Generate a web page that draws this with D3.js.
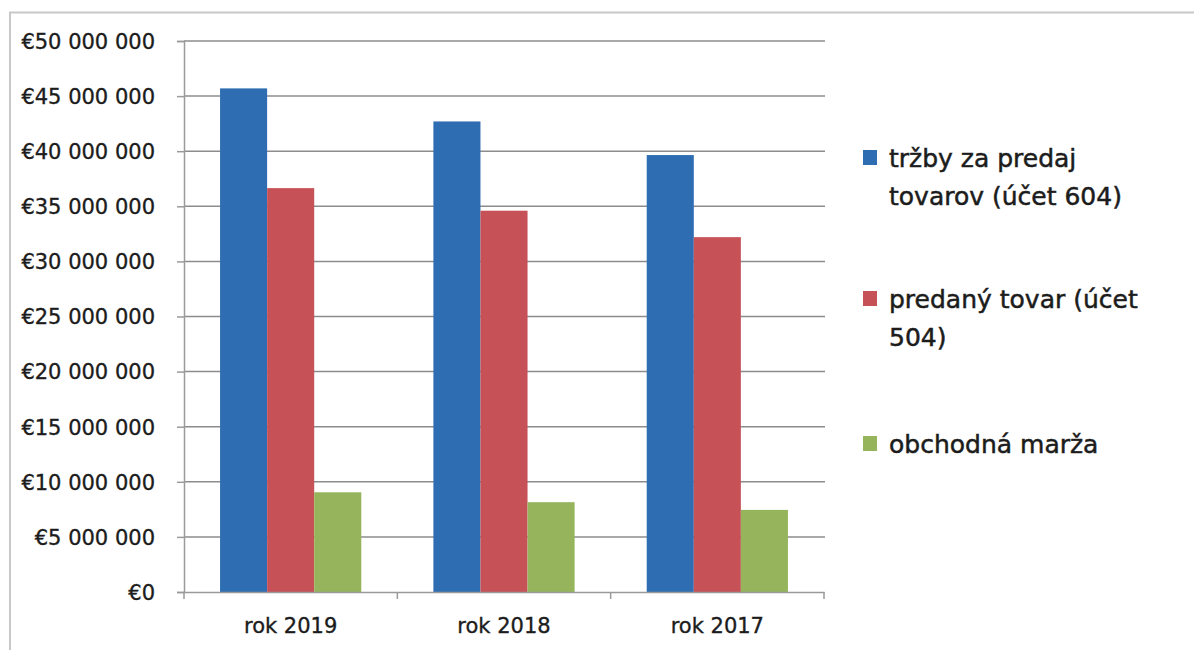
<!DOCTYPE html>
<html><head><meta charset="utf-8">
<script src="https://cdn.jsdelivr.net/npm/d3@7"></script>
<style>
html,body{margin:0;padding:0;background:#fff;}
svg{display:block;}
text{font-family:"DejaVu Sans",sans-serif;fill:#1c1c1c;stroke:#1c1c1c;stroke-width:0.35px;}
</style></head>
<body>
<svg id="chart" width="1194" height="650"></svg>
<script>
const categories = ["rok 2019", "rok 2018", "rok 2017"];
const seriesNames = ["tržby za predaj tovarov (účet 604)", "predaný tovar (účet 504)", "obchodná marža"];
const trzby = [45700000, 42700000, 39650000];
const predanyTovar = [36650000, 34600000, 32200000];
const marza = [9050000, 8150000, 7450000];
const yTicks = [0, 5000000, 10000000, 15000000, 20000000, 25000000, 30000000, 35000000, 40000000, 45000000, 50000000];
const legendLines = [["tržby za predaj", "tovarov (účet 604)"], ["predaný tovar (účet", "504)"], ["obchodná marža"]];
const colors = ["#2f6db2", "#c65257", "#95b45c"];

(function () {
const series = [trzby, predanyTovar, marza];
const svg = d3.select("#chart");

// outer frame
svg.append("path").attr("d", "M10,650 L10,12.5 L1194,12.5")
  .attr("fill", "none").attr("stroke", "#c8c8c8").attr("stroke-width", 2);

const pLeft = 184, pRight = 824, pTop = 41, pBottom = 592;
const y = d3.scaleLinear().domain([0, 50000000]).range([pBottom, pTop]);
const x = d3.scaleBand().domain(categories).range([pLeft, pRight]).paddingInner(0.338).paddingOuter(0.169);
const xs = d3.scaleBand().domain(d3.range(series.length)).range([0, x.bandwidth()]);

// gridlines
svg.append("g").selectAll("line").data(yTicks.filter(d => d > 0)).join("line")
  .attr("x1", pLeft).attr("x2", pRight + 1)
  .attr("y1", d => y(d)).attr("y2", d => y(d))
  .attr("stroke", "#8c8c8c").attr("stroke-width", 1.5);

// bars
const g = svg.append("g");
series.forEach((vals, si) => {
  g.append("g").selectAll("rect").data(vals).join("rect")
    .attr("x", (d, i) => x(categories[i]) + xs(si))
    .attr("width", xs.bandwidth())
    .attr("y", d => y(d))
    .attr("height", d => y(0) - y(d))
    .attr("fill", colors[si]);
});

// y axis
const fmt = d => "€" + d3.format(",")(d).replace(/,/g, " ");
const yAxis = svg.append("g").attr("transform", `translate(${pLeft},0)`)
  .call(d3.axisLeft(y).tickValues(yTicks).tickFormat(fmt).tickSize(7).tickPadding(22));
yAxis.select(".domain").attr("stroke", "#9a9a9a").attr("stroke-width", 1.5);
yAxis.selectAll(".tick line").attr("stroke", "#9a9a9a").attr("stroke-width", 1.5);
yAxis.selectAll(".tick text").attr("font-size", 21).attr("font-family", "DejaVu Sans").attr("fill", "#1c1c1c").attr("dy", "0.35em");

// x axis
const xAxis = svg.append("g").attr("transform", `translate(0,${pBottom})`)
  .call(d3.axisBottom(x).tickSize(0).tickPadding(26));
xAxis.select(".domain").attr("stroke", "#9a9a9a").attr("stroke-width", 1.5);
xAxis.selectAll(".tick text").attr("font-size", 21).attr("font-family", "DejaVu Sans").attr("fill", "#1c1c1c");
// category boundary ticks
const bounds = categories.map(c => x(c) - x.step() * x.paddingInner() / 2).concat([pRight]);
svg.append("g").selectAll("line").data(bounds).join("line")
  .attr("x1", d => d).attr("x2", d => d).attr("y1", pBottom).attr("y2", pBottom + 7)
  .attr("stroke", "#9a9a9a").attr("stroke-width", 1.5);

// legend
const legendY = [167, 308, 453];
const leg = svg.append("g");
legendLines.forEach((lines, i) => {
  leg.append("rect").attr("x", 863).attr("y", legendY[i] - 17).attr("width", 14).attr("height", 15).attr("fill", colors[i]);
  const t = leg.append("text").attr("x", 889).attr("y", legendY[i]).attr("font-size", 25).style("stroke-width", "0.5px");
  lines.forEach((l, j) => t.append("tspan").attr("x", 889).attr("dy", j === 0 ? 0 : 37.5).text(l));
});
})();
</script>
</body></html>
